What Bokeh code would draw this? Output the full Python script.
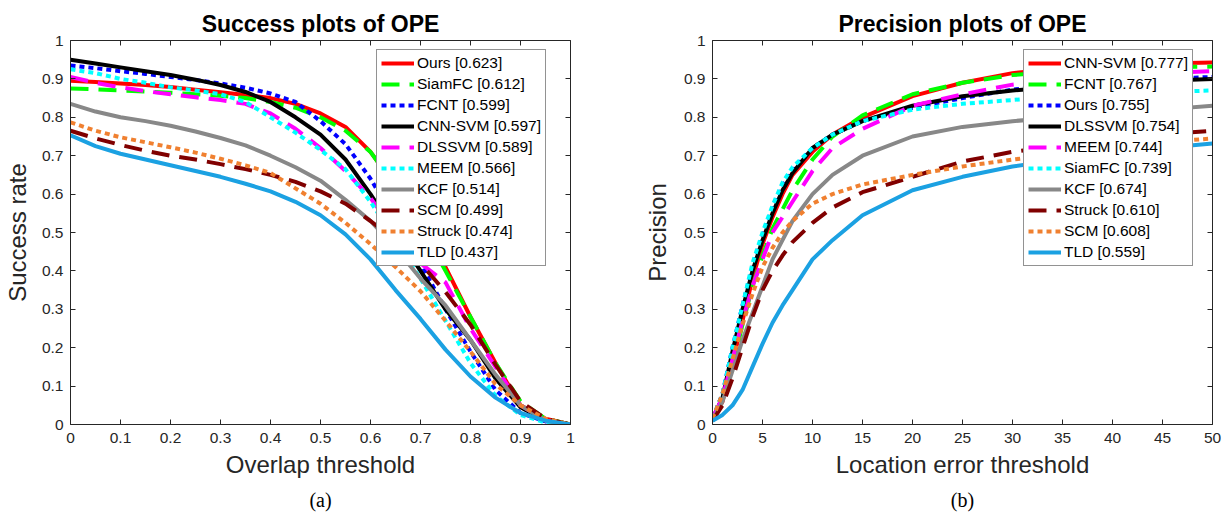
from bokeh.plotting import figure
from bokeh.models import (Range1d, LinearAxis, FixedTicker, Legend, LegendItem,
                          CustomJSTickFormatter, Title)
from bokeh.layouts import row
from bokeh.embed import file_html
from bokeh.resources import INLINE

# ---------------- data ----------------
success_thresholds = [0.0, 0.05, 0.1, 0.15, 0.2, 0.25, 0.3, 0.35, 0.4, 0.45, 0.5,
                      0.55, 0.6, 0.65, 0.7, 0.75, 0.8, 0.85, 0.9, 0.95, 1.0]
success_names = ["Ours", "SiamFC", "FCNT", "CNN-SVM", "DLSSVM", "MEEM", "KCF", "SCM", "Struck", "TLD"]
success_scores = [0.623, 0.612, 0.599, 0.597, 0.589, 0.566, 0.514, 0.499, 0.474, 0.437]
success_ours = [0.895, 0.892, 0.888, 0.884, 0.879, 0.872, 0.865, 0.858, 0.85, 0.835, 0.81,
                0.775, 0.71, 0.62, 0.52, 0.41, 0.28, 0.16, 0.05, 0.015, 0.0]
success_siamfc = [0.875, 0.873, 0.87, 0.867, 0.864, 0.86, 0.856, 0.85, 0.84, 0.825, 0.8,
                  0.765, 0.71, 0.62, 0.52, 0.4, 0.28, 0.16, 0.06, 0.015, 0.0]
success_fcnt = [0.935, 0.928, 0.92, 0.913, 0.905, 0.897, 0.888, 0.877, 0.862, 0.84, 0.79,
                0.73, 0.64, 0.53, 0.42, 0.3, 0.19, 0.09, 0.03, 0.008, 0.0]
success_cnnsvm = [0.95, 0.94, 0.93, 0.92, 0.91, 0.898, 0.884, 0.866, 0.84, 0.8, 0.755,
                  0.69, 0.6, 0.5, 0.4, 0.3, 0.22, 0.12, 0.045, 0.01, 0.0]
success_dlssvm = [0.905, 0.89, 0.878, 0.868, 0.86, 0.852, 0.845, 0.835, 0.81, 0.77, 0.72,
                  0.66, 0.59, 0.5, 0.42, 0.37, 0.25, 0.15, 0.05, 0.01, 0.0]
success_meem = [0.925, 0.915, 0.9, 0.89, 0.878, 0.87, 0.86, 0.84, 0.8, 0.76, 0.715,
                0.665, 0.58, 0.48, 0.38, 0.27, 0.16, 0.075, 0.025, 0.005, 0.0]
success_kcf = [0.835, 0.815, 0.8, 0.79, 0.778, 0.763, 0.746, 0.727, 0.7, 0.67, 0.635,
               0.585, 0.53, 0.46, 0.38, 0.31, 0.22, 0.13, 0.05, 0.01, 0.0]
success_scm = [0.765, 0.745, 0.728, 0.713, 0.7, 0.69, 0.678, 0.665, 0.65, 0.632, 0.607,
               0.575, 0.53, 0.48, 0.42, 0.345, 0.26, 0.156, 0.06, 0.015, 0.0]
success_struck = [0.787, 0.765, 0.748, 0.735, 0.722, 0.708, 0.692, 0.675, 0.655, 0.615, 0.575,
                  0.525, 0.47, 0.41, 0.347, 0.27, 0.19, 0.105, 0.05, 0.015, 0.0]
success_tld = [0.753, 0.725, 0.705, 0.69, 0.675, 0.66, 0.645, 0.627, 0.607, 0.58, 0.545,
               0.495, 0.43, 0.35, 0.275, 0.195, 0.125, 0.07, 0.03, 0.01, 0.0]

precision_thresholds = [0, 1, 2, 3, 4, 5, 6, 7, 8, 10, 12, 15, 20, 25, 30, 35, 40, 45, 50]
precision_names = ["CNN-SVM", "FCNT", "Ours", "DLSSVM", "MEEM", "SiamFC", "KCF", "Struck", "SCM", "TLD"]
precision_scores = [0.777, 0.767, 0.755, 0.754, 0.744, 0.739, 0.674, 0.610, 0.608, 0.559]
precision_cnnsvm = [0.01, 0.06, 0.16, 0.27, 0.38, 0.47, 0.54, 0.60, 0.65, 0.71, 0.755,
                    0.80, 0.855, 0.89, 0.915, 0.928, 0.935, 0.94, 0.943]
precision_fcnt = [0.01, 0.06, 0.15, 0.26, 0.36, 0.44, 0.51, 0.56, 0.61, 0.69, 0.75,
                  0.805, 0.86, 0.89, 0.91, 0.92, 0.925, 0.93, 0.932]
precision_ours = [0.015, 0.08, 0.2, 0.31, 0.41, 0.49, 0.56, 0.62, 0.66, 0.72, 0.755,
                  0.79, 0.825, 0.85, 0.872, 0.885, 0.895, 0.90, 0.905]
precision_dlssvm = [0.015, 0.07, 0.19, 0.30, 0.40, 0.48, 0.55, 0.61, 0.655, 0.72, 0.755,
                    0.79, 0.83, 0.855, 0.87, 0.88, 0.89, 0.895, 0.90]
precision_meem = [0.015, 0.07, 0.17, 0.27, 0.36, 0.43, 0.50, 0.54, 0.58, 0.66, 0.72,
                  0.77, 0.83, 0.86, 0.885, 0.90, 0.91, 0.915, 0.92]
precision_siamfc = [0.015, 0.08, 0.20, 0.31, 0.42, 0.50, 0.57, 0.63, 0.67, 0.72, 0.755,
                    0.79, 0.82, 0.835, 0.845, 0.855, 0.86, 0.865, 0.87]
precision_kcf = [0.01, 0.06, 0.14, 0.22, 0.29, 0.36, 0.43, 0.48, 0.53, 0.60, 0.65,
                 0.70, 0.75, 0.775, 0.79, 0.80, 0.81, 0.82, 0.83]
precision_struck = [0.01, 0.05, 0.12, 0.20, 0.28, 0.35, 0.40, 0.44, 0.475, 0.525, 0.565,
                    0.605, 0.645, 0.685, 0.71, 0.725, 0.74, 0.755, 0.765]
precision_scm = [0.015, 0.08, 0.17, 0.26, 0.34, 0.41, 0.46, 0.50, 0.53, 0.575, 0.60,
                 0.625, 0.65, 0.672, 0.69, 0.705, 0.72, 0.735, 0.745]
precision_tld = [0.01, 0.025, 0.05, 0.09, 0.15, 0.21, 0.265, 0.31, 0.35, 0.43, 0.48,
                 0.545, 0.61, 0.645, 0.672, 0.69, 0.705, 0.72, 0.732]

success_series = [success_ours, success_siamfc, success_fcnt, success_cnnsvm, success_dlssvm,
                  success_meem, success_kcf, success_scm, success_struck, success_tld]
precision_series = [precision_cnnsvm, precision_fcnt, precision_ours, precision_dlssvm, precision_meem,
                    precision_siamfc, precision_kcf, precision_struck, precision_scm, precision_tld]

success_xticks = [0, 0.1, 0.2, 0.3, 0.4, 0.5, 0.6, 0.7, 0.8, 0.9, 1.0]
precision_xticks = [0, 5, 10, 15, 20, 25, 30, 35, 40, 45, 50]
y_ticks = [0, 0.1, 0.2, 0.3, 0.4, 0.5, 0.6, 0.7, 0.8, 0.9, 1.0]

# ---------------- styles (by rank) ----------------
COLORS = ["#ff0000", "#00ff00", "#0000ff", "#000000", "#ff00ff",
          "#00ffff", "#888888", "#800000", "#f08030", "#1ba1e2"]
DASHES = ["solid", "18 10", "5 4", "solid", "18 10",
          "5 4", "solid", "18 10", "5 4", "solid"]

FONT = "Liberation Sans"
AX = "#262626"

fmt = CustomJSTickFormatter(code="return (Math.round(tick*10)/10).toString();")


def style_axis(ax, ticks, show_labels=True):
    ax.ticker = FixedTicker(ticks=ticks)
    ax.major_tick_in = 5
    ax.major_tick_out = 0
    ax.minor_tick_line_color = None
    ax.axis_line_color = AX
    ax.major_tick_line_color = AX
    ax.major_label_text_font = FONT
    if show_labels:
        ax.major_label_text_color = AX
        ax.major_label_text_font_size = "15.5px"
        ax.major_label_standoff = 8
    else:
        ax.major_label_text_color = None
        ax.major_label_text_font_size = "1px"
        ax.major_label_standoff = 0


def make_panel(title, xlabel, ylabel, caption, x_end, xticks, xs, names, scores, series,
               b_left, b_right, ylab_standoff, leg_x):
    p = figure(frame_width=500, frame_height=384,
               x_range=Range1d(0, x_end), y_range=Range1d(0, 1),
               output_backend="svg", toolbar_location=None,
               min_border_left=b_left, min_border_right=b_right,
               min_border_top=40, min_border_bottom=92,
               background_fill_color="white", border_fill_color="white")
    p.outline_line_color = None
    p.xgrid.visible = False
    p.ygrid.visible = False

    p.title.text = title
    p.title.align = "center"
    p.title.text_font = FONT
    p.title.text_font_size = "23px"
    p.title.text_font_style = "bold"
    p.title.text_color = "black"
    p.title.standoff = 7

    xa = p.xaxis[0]
    style_axis(xa, xticks)
    if x_end == 1:
        xa.formatter = fmt
    xa.axis_label = xlabel
    xa.axis_label_text_font = FONT
    xa.axis_label_text_font_size = "24px"
    xa.axis_label_text_font_style = "normal"
    xa.axis_label_text_color = AX
    xa.axis_label_standoff = 5

    ya = p.yaxis[0]
    style_axis(ya, y_ticks)
    ya.major_label_standoff = 7
    ya.formatter = fmt
    ya.axis_label = ylabel
    ya.axis_label_text_font = FONT
    ya.axis_label_text_font_size = "24px"
    ya.axis_label_text_font_style = "normal"
    ya.axis_label_text_color = AX
    ya.axis_label_standoff = ylab_standoff

    top = LinearAxis()
    style_axis(top, xticks, show_labels=False)
    p.add_layout(top, "above")
    right = LinearAxis()
    style_axis(right, y_ticks, show_labels=False)
    p.add_layout(right, "right")

    items = []
    for i, (n, s, ys) in enumerate(zip(names, scores, series)):
        r = p.line(xs, ys, line_color=COLORS[i], line_width=4,
                   line_dash=DASHES[i], line_cap="butt", line_join="round")
        items.append(LegendItem(label=f"{n} [{s:.3f}]", renderers=[r]))

    leg = Legend(items=items, location=(leg_x, 158), margin=0, padding=4, spacing=3,
                 label_height=18, glyph_height=18, glyph_width=33, label_standoff=3,
                 label_text_font=FONT, label_text_font_size="15.5px", label_text_color="black",
                 border_line_color=AX, border_line_width=1, background_fill_color="white",
                 background_fill_alpha=1.0)
    p.add_layout(leg)

    p.add_layout(Title(text=caption, align="center", text_font="Liberation Serif",
                       text_font_size="20px", text_font_style="normal",
                       text_color="black", standoff=12), "below")
    return p


p1 = make_panel("Success plots of OPE", "Overlap threshold", "Success rate", "(a)",
                1, success_xticks, success_thresholds, success_names, success_scores,
                success_series, 69, 51, 8, 306)
p2 = make_panel("Precision plots of OPE", "Location error threshold", "Precision", "(b)",
                50, precision_xticks, precision_thresholds, precision_names, precision_scores,
                precision_series, 91, 10, 10, 311)

layout = row(p1, p2)
open("out.html", "w").write(file_html(layout, INLINE))
